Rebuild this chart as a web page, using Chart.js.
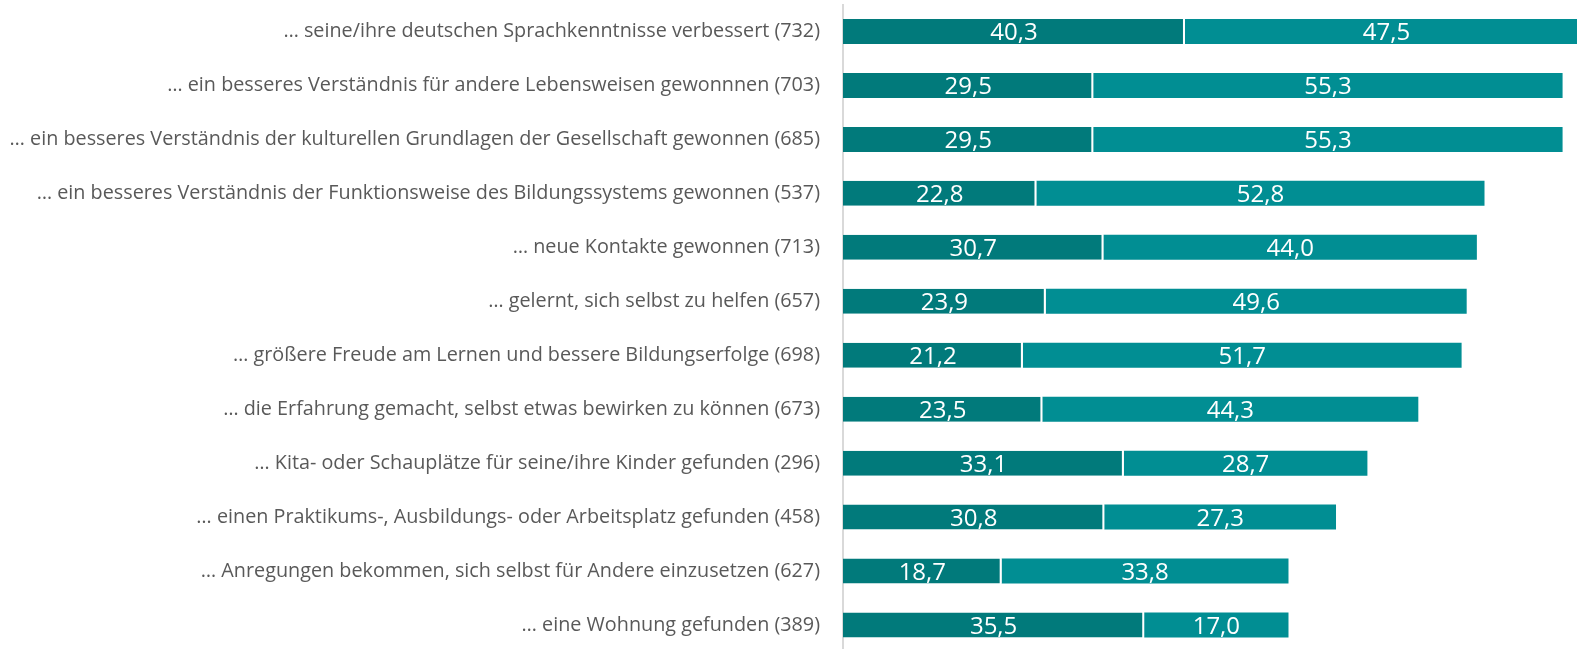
<!DOCTYPE html>
<html>
<head>
<meta charset="utf-8">
<script src="https://cdn.jsdelivr.net/npm/chart.js@4/dist/chart.umd.min.js"></script>
<style>
  html, body { margin: 0; padding: 0; background: #fff; overflow: hidden; }
  #chart { display: block; }
</style>
</head>
<body>
<canvas id="chart" width="1577" height="652"></canvas>
<script>
const categories = [
    '… seine/ihre deutschen Sprachkenntnisse verbessert (732)',
    '… ein besseres Verständnis für andere Lebensweisen gewonnnen (703)',
    '… ein besseres Verständnis der kulturellen Grundlagen der Gesellschaft gewonnen (685)',
    '… ein besseres Verständnis der Funktionsweise des Bildungssystems gewonnen (537)',
    '… neue Kontakte gewonnen (713)',
    '… gelernt, sich selbst zu helfen (657)',
    '… größere Freude am Lernen und bessere Bildungserfolge (698)',
    '… die Erfahrung gemacht, selbst etwas bewirken zu können (673)',
    '… Kita- oder Schauplätze für seine/ihre Kinder gefunden (296)',
    '… einen Praktikums-, Ausbildungs- oder Arbeitsplatz gefunden (458)',
    '… Anregungen bekommen, sich selbst für Andere einzusetzen (627)',
    '… eine Wohnung gefunden (389)',
];
const seriesStrong = [40.3, 29.5, 29.5, 22.8, 30.7, 23.9, 21.2, 23.5, 33.1, 30.8, 18.7, 35.5];
const seriesPartly = [47.5, 55.3, 55.3, 52.8, 44.0, 49.6, 51.7, 44.3, 28.7, 27.3, 33.8, 17.0];

const fmt = new Intl.NumberFormat('de-DE', { minimumFractionDigits: 1, maximumFractionDigits: 1 });

// draws the white value labels centred in each segment
const valueLabels = {
    id: 'valueLabels',
    afterDatasetsDraw(chart) {
        const { ctx } = chart;
        ctx.save();
        ctx.font = '24px "Open Sans"';
        ctx.fillStyle = '#ffffff';
        ctx.textAlign = 'center';
        ctx.textBaseline = 'middle';
        chart.data.datasets.forEach((ds, i) => {
            chart.getDatasetMeta(i).data.forEach((bar, j) => {
                const { x, base, y } = bar.getProps(['x', 'base', 'y'], true);
                ctx.fillText(fmt.format(ds.data[j]), (x + base) / 2, y + 2);
            });
        });
        ctx.restore();
    }
};

new Chart(document.getElementById('chart'), {
    type: 'bar',
    data: {
        labels: categories,
        datasets: [{
            data: seriesStrong,
            backgroundColor: '#017A7B',
            borderColor: '#ffffff',
            borderWidth: { left: 0, top: 0, bottom: 0, right: 2 },
            borderSkipped: false,
            barPercentage: 0.464,
            categoryPercentage: 1,
        }, {
            data: seriesPartly,
            backgroundColor: '#018E93',
            borderWidth: 0,
            barPercentage: 0.464,
            categoryPercentage: 1,
        }],
    },
    options: {
        indexAxis: 'y',
        responsive: false,
        animation: false,
        layout: { padding: { top: 4.5, bottom: 0, left: 0, right: 0 } },
        plugins: {
            legend: { display: false },
            tooltip: { enabled: false },
        },
        scales: {
            x: {
                stacked: true,
                display: false,
                min: 0,
                max: 86.5,
            },
            y: {
                stacked: true,
                grid: { display: false },
                border: { display: true, color: '#D9D9D9', width: 2 },
                ticks: {
                    color: '#595959',
                    font: { family: '"Open Sans"', size: 19.8 },
                    padding: 15,
                },
                afterFit(scale) {
                    scale.width = 843;
                    // no extra room above/below for the first and last label
                    scale.paddingTop = 0;
                    scale.paddingBottom = 0;
                },
            },
        },
    },
    plugins: [valueLabels],
});
</script>
</body>
</html>
